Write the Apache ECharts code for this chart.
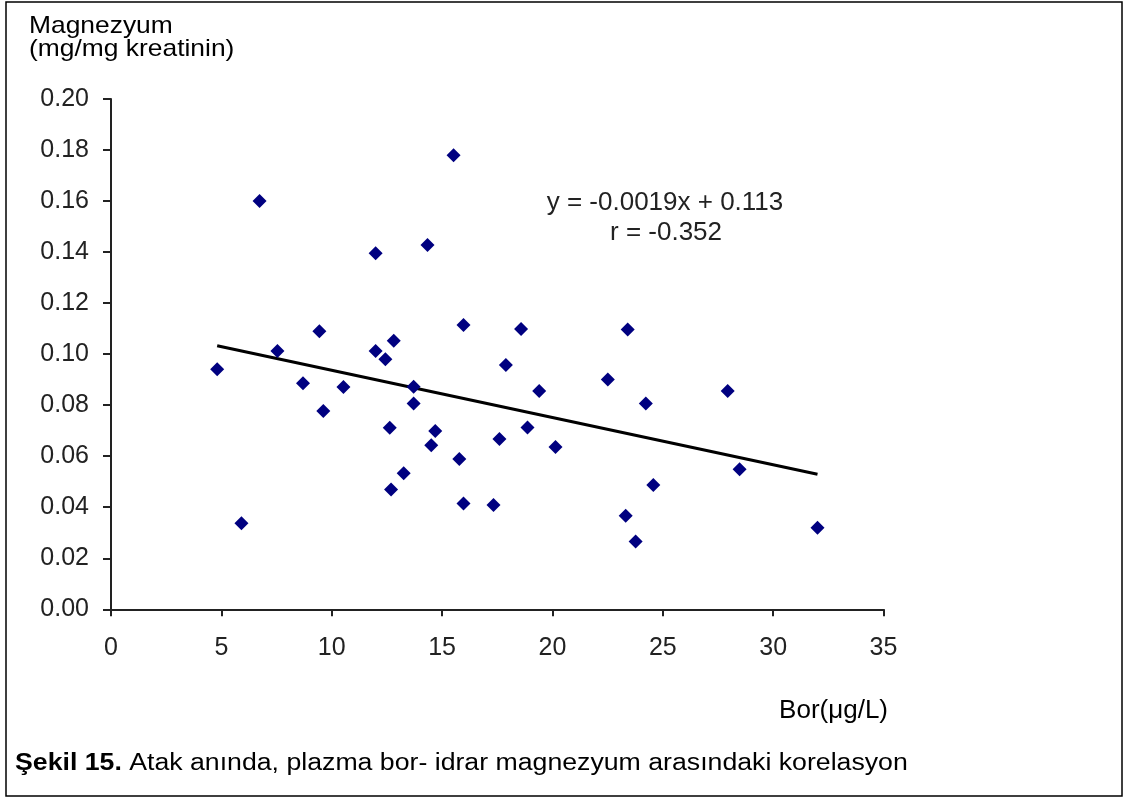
<!DOCTYPE html>
<html>
<head>
<meta charset="utf-8">
<script src="https://cdn.jsdelivr.net/npm/echarts@6/dist/echarts.min.js"></script>
<style>
html,body{margin:0;padding:0;background:#fff;}
#chart{width:1126px;height:798px;}
</style>
</head>
<body>
<div id="chart"></div>
<script>
// Data
var borValues = [4.81, 5.91, 6.73, 7.54, 8.70, 9.44, 9.62, 10.53, 11.99, 11.99,
  12.43, 12.81, 12.63, 12.69, 13.26, 13.71, 13.71, 14.34, 14.51, 14.69,
  15.52, 15.78, 15.97, 15.97, 17.33, 17.60, 17.89, 18.58, 18.87, 19.40,
  20.14, 22.51, 23.41, 23.32, 23.77, 24.23, 24.57, 27.94, 28.48, 32.01];
var magValues = [0.0941, 0.0337, 0.160, 0.1012, 0.0886, 0.109, 0.0777, 0.0871, 0.1395, 0.1012,
  0.098, 0.1053, 0.0712, 0.0470, 0.0533, 0.0872, 0.0807, 0.1428, 0.0643, 0.0699,
  0.178, 0.0589, 0.1114, 0.0415, 0.0409, 0.0667, 0.0957, 0.1099, 0.0713, 0.0856,
  0.0636, 0.0901, 0.1097, 0.0367, 0.0266, 0.0807, 0.0487, 0.0856, 0.0549, 0.0320];
var trendX = [4.81, 32.01];
var trendY = [0.1033, 0.0529];
var xTicks = [0, 5, 10, 15, 20, 25, 30, 35];
var yTicks = [0.00, 0.02, 0.04, 0.06, 0.08, 0.10, 0.12, 0.14, 0.16, 0.18, 0.20];
var equationText = 'y = -0.0019x + 0.113';
var rText = 'r = -0.352';

var scatterData = borValues.map(function (x, i) { return [x, magValues[i]]; });
var trendData = trendX.map(function (x, i) { return [x, trendY[i]]; });

var chart = echarts.init(document.getElementById('chart'), null, {renderer: 'canvas'});
var tickFont = {fontFamily: 'Liberation Sans', fontSize: 25, color: '#222'};

chart.setOption({
  animation: false,
  backgroundColor: '#fff',
  grid: {left: 111, right: 242.5, top: 99, bottom: 188.7, containLabel: false},
  xAxis: {
    type: 'value', min: xTicks[0], max: xTicks[xTicks.length - 1], interval: 5,
    axisLine: {show: true, onZero: false, lineStyle: {color: '#222', width: 2}},
    axisTick: {show: true, length: 7, lineStyle: {color: '#222', width: 2}},
    splitLine: {show: false},
    axisLabel: Object.assign({margin: 26}, tickFont)
  },
  yAxis: {
    type: 'value', min: yTicks[0], max: yTicks[yTicks.length - 1], interval: 0.02,
    axisLine: {show: true, onZero: false, lineStyle: {color: '#222', width: 2}},
    axisTick: {show: true, length: 8, lineStyle: {color: '#222', width: 2}},
    splitLine: {show: false},
    axisLabel: Object.assign({margin: 22, formatter: function (v) { return v.toFixed(2); }}, tickFont)
  },
  series: [
    {
      type: 'line', data: trendData, symbol: 'none', silent: true,
      lineStyle: {color: '#000', width: 3}, z: 2
    },
    {
      type: 'scatter', data: scatterData, symbol: 'diamond', symbolSize: 14,
      itemStyle: {color: '#000080', opacity: 1}, z: 3
    }
  ],
  graphic: [
    {type: 'rect', shape: {x: 6, y: 2, width: 1116, height: 794},
      style: {fill: 'none', stroke: '#000', lineWidth: 1.5}, silent: true},
    {type: 'text', x: 29, y: 26, scaleX: 1.1, style: {text: 'Magnezyum', font: '24px "Liberation Sans"', fill: '#000', verticalAlign: 'middle'}},
    {type: 'text', x: 29, y: 49, scaleX: 1.1, style: {text: '(mg/mg kreatinin)', font: '24px "Liberation Sans"', fill: '#000', verticalAlign: 'middle'}},
    {type: 'text', x: 888, y: 711, style: {text: 'Bor(\u03bcg/L)', font: '26px "Liberation Sans"', fill: '#000', align: 'right', verticalAlign: 'middle'}},
    {type: 'text', x: 665, y: 203, style: {text: equationText, font: '26px "Liberation Sans"', fill: '#222', align: 'center', verticalAlign: 'middle'}},
    {type: 'text', x: 666, y: 233, style: {text: rText, font: '26px "Liberation Sans"', fill: '#222', align: 'center', verticalAlign: 'middle'}},
    {type: 'text', x: 15, y: 764, scaleX: 1.16, style: {
      text: '{b|\u015eekil 15.} Atak an\u0131nda, plazma bor- idrar magnezyum aras\u0131ndaki korelasyon',
      font: '23px "Liberation Sans"', fill: '#000', verticalAlign: 'middle',
      rich: {b: {fontWeight: 'bold', fontSize: 23, fontFamily: 'Liberation Sans'}}
    }}
  ]
});
</script>
</body>
</html>
